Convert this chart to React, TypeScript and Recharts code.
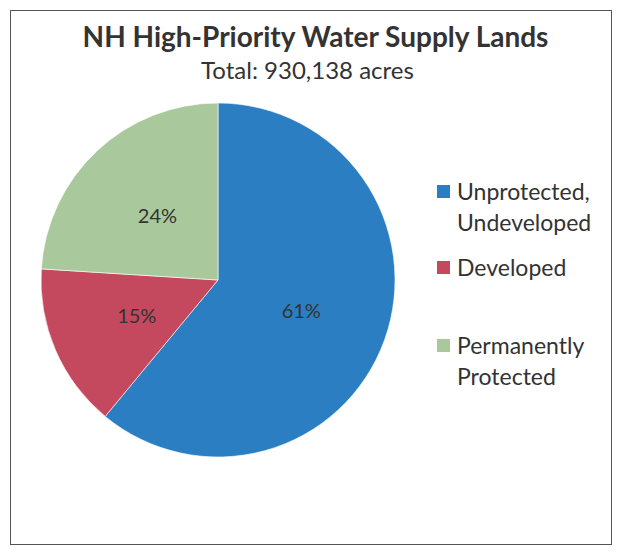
import { PieChart, Pie, Cell, Legend } from "recharts";

const categories = ["Unprotected, Undeveloped", "Developed", "Permanently Protected"];
const legendLines = [["Unprotected,", "Undeveloped"], ["Developed"], ["Permanently", "Protected"]];
const shares = [61, 15, 24];
const colors = ["#2B7EC1", "#C4485E", "#A9C99C"];

const chartData = categories.map((name, i) => ({ name, value: shares[i] }));

const RAD = Math.PI / 180;
const font = "Lato, 'Open Sans', sans-serif";

function renderLabel(props: any) {
  const { cx, cy, midAngle, outerRadius, value } = props;
  const r = outerRadius * 0.5;
  const x = cx + r * Math.cos(-midAngle * RAD);
  const y = cy + r * Math.sin(-midAngle * RAD);
  return (
    <text
      x={x}
      y={y}
      textAnchor="middle"
      dominantBaseline="central"
      fill="#333"
      fontSize={20}
      fontFamily={font}
    >
      {`${value}%`}
    </text>
  );
}

function renderLegend() {
  const gaps = [0, 14, 47];
  return (
    <div style={{ fontFamily: font, fontSize: 23, color: "#333", lineHeight: "31px" }}>
      {legendLines.map((lines, i) => (
        <div key={i} style={{ display: "flex", marginTop: gaps[i] }}>
          <div
            style={{
              width: 13,
              height: 13,
              background: colors[i],
              marginTop: 9,
              marginRight: 7,
            }}
          />
          <div>
            {lines.map((l) => (
              <div key={l}>{l}</div>
            ))}
          </div>
        </div>
      ))}
    </div>
  );
}

export default function App() {
  return (
    <div style={{ position: "absolute", left: 0, top: 0, width: 619, height: 553, background: "#fff" }}>
      <div
        style={{
          position: "absolute",
          left: 10,
          top: 10,
          width: 600,
          height: 533,
          border: "1.5px solid #555",
        }}
      />
      <div
        style={{
          position: "absolute",
          left: 0,
          width: 631,
          top: 19,
          textAlign: "center",
          fontFamily: font,
          fontWeight: 700,
          fontSize: 28,
          color: "#333",
        }}
      >
        NH High-Priority Water Supply Lands
      </div>
      <div
        style={{
          position: "absolute",
          left: 0,
          width: 615,
          top: 55,
          textAlign: "center",
          fontFamily: font,
          fontSize: 24,
          color: "#333",
        }}
      >
        Total: 930,138 acres
      </div>
      <div style={{ position: "absolute", left: 0, top: 0 }}>
        <PieChart width={619} height={553} margin={{ top: 0, right: 0, bottom: 0, left: 0 }}>
          <Pie
            data={chartData}
            dataKey="value"
            nameKey="name"
            cx={218}
            cy={280}
            outerRadius={177}
            startAngle={90}
            endAngle={-270}
            stroke="#ffffff"
            strokeWidth={0.6}
            label={renderLabel}
            labelLine={false}
            isAnimationActive={false}
          >
            {chartData.map((d, i) => (
              <Cell key={d.name} fill={colors[i]} />
            ))}
          </Pie>
          <Legend
            content={renderLegend}
            wrapperStyle={{ position: "absolute", left: 437, top: 176, width: 175 }}
          />
        </PieChart>
      </div>
    </div>
  );
}
